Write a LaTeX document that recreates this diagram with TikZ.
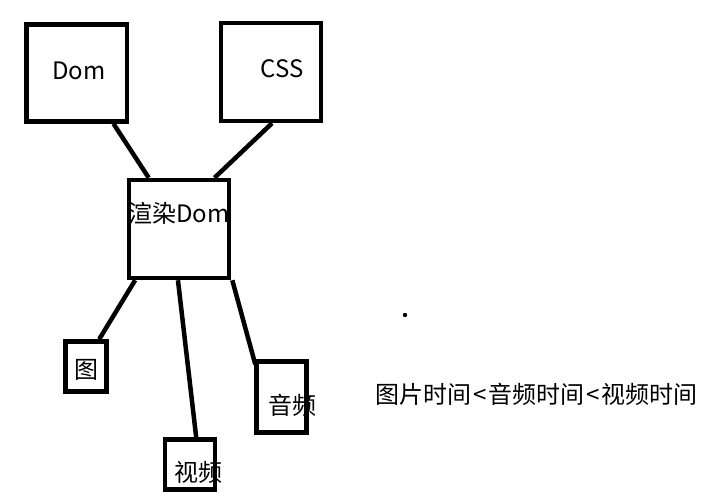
\documentclass[tikz,border=0pt]{standalone}
\usepackage{fontspec}
\setmainfont{Noto Sans CJK SC}
\usetikzlibrary{calc}
\tikzset{
  box/.style={draw=black, line width=4.5pt, inner sep=0pt, fill=none},
  lbl/.style={inner sep=0pt, font=\fontsize{24}{26}\selectfont, text=black},
  conn/.style={draw=black, line width=4.5pt}
}
\begin{document}
\begin{tikzpicture}[x=1pt,y=-1pt]
\useasboundingbox[fill=white] (0,0) rectangle (706,502);
% boxes
\node[box, minimum width=100.5pt, minimum height=97pt] (dom) at (76.75,73) {};
\node[box, minimum width=100pt, minimum height=98pt] (css) at (271,72) {};
\node[box, minimum width=100pt, minimum height=98pt] (render) at (179,229) {};
\node[box, minimum width=41pt, minimum height=50pt] (pic) at (86,366.5) {};
\node[box, minimum width=50pt, minimum height=50pt] (video) at (190,464.5) {};
\node[box, minimum width=50pt, minimum height=71pt] (audio) at (281.5,397) {};
% labels
\node[lbl] (domlbl) at (79,71) {Dom};
\node[lbl] (csslbl) at (282,69) {CSS};
\node[lbl] (renderlbl) at (179,213) {渲染Dom};
\node[lbl] (piclbl) at (86,370) {图};
\node[lbl] (videolbl) at (198,472) {视频};
\node[lbl] (audiolbl) at (292,405) {音频};
\node[lbl, anchor=west] (note) at (375,394) {图片时间\hspace{2pt}<\hspace{2pt}音频时间\hspace{2pt}<\hspace{2pt}视频时间};
% dot
\fill (405,315) circle (2.2pt);
\coordinate (dot) at (405,315);
% connectors
\draw[conn] ($(dom.south west)!0.85!(dom.south east)$) -- ($(render.north west)!0.21!(render.north east)$);
\draw[conn] ($(css.south west)!0.51!(css.south east)$) -- ($(render.north west)!0.84!(render.north east)$);
\draw[conn] ($(render.south west)!0.08!(render.south east)$) -- ($(pic.north west)!0.79!(pic.north east)$);
\draw[conn] ($(render.south west)!0.49!(render.south east)$) -- ($(video.north west)!0.62!(video.north east)+(0,3)$);
\draw[conn] ($(render.south west)!1.01!(render.south east)$) -- ($(audio.north west)+(1,5)$);
\end{tikzpicture}
\end{document}
